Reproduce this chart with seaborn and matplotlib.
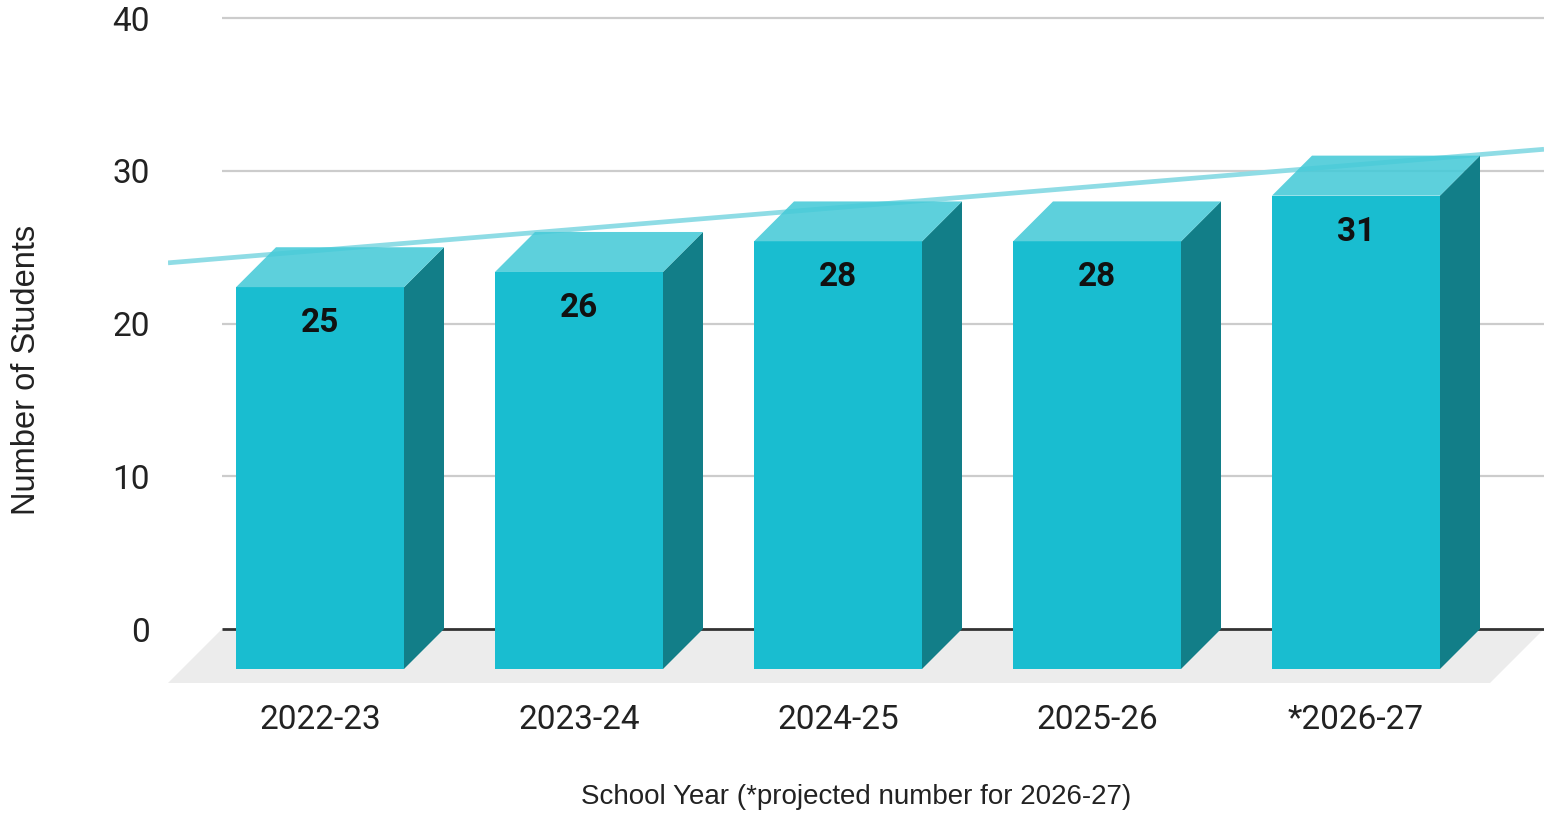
import numpy as np
import matplotlib
matplotlib.use("Agg")
import matplotlib.pyplot as plt
from matplotlib.patches import Polygon
import seaborn as sns

# ---- data ----
years = ["2022-23", "2023-24", "2024-25", "2025-26", "*2026-27"]
students = [25, 26, 28, 28, 31]
yticks = [0, 10, 20, 30, 40]
xlabel = "School Year (*projected number for 2026-27)"
ylabel = "Number of Students"

# ---- style ----
FRONT = "#19bdd0"
SIDE = "#127e88"
TOP = "#46cad8"
TREND = "#8fdce5"
FLOOR = "#ececec"

sns.set_theme(style="white")
plt.rcParams["font.family"] = ["Roboto", "DejaVu Sans"]
TITLE_FONT = ["Liberation Sans", "DejaVu Sans"]

W, H = 1544, 813
fig = plt.figure(figsize=(W / 100, H / 100), dpi=100)
ax = fig.add_axes([168 / W, (H - 683) / H, (W - 168) / W, 683 / H])

px_cat = 259.0          # pixels per category
px_val = 15.27          # pixels per unit
x0_px = 320.0           # pixel of category 0 center
zero_px = 629.0         # pixel row of value 0
bar_w = 168 / px_cat
ddx = 40 / px_cat       # depth offset in x (data)
ddy = 40 / px_val       # depth offset in y (data)

xlim = ((168 - x0_px) / px_cat, (W - x0_px) / px_cat)
ylim = ((zero_px - 683) / px_val, (zero_px - 0) / px_val)

# front faces via seaborn
sns.barplot(x=years, y=students, color=FRONT, width=bar_w, saturation=1,
            ax=ax, zorder=3, linewidth=0)
for p, v in zip(ax.patches, students):
    p.set_y(-ddy)
    p.set_height(v)
    p.set_zorder(3)
    x_l = p.get_x()
    x_r = x_l + p.get_width()
    top_f = v - ddy
    # side face
    ax.add_patch(Polygon([(x_r, -ddy), (x_r + ddx, 0), (x_r + ddx, v), (x_r, top_f)],
                         closed=True, facecolor=SIDE, edgecolor="none", zorder=3))
    # top face
    ax.add_patch(Polygon([(x_l, top_f), (x_l + ddx, v), (x_r + ddx, v), (x_r, top_f)],
                         closed=True, facecolor=TOP, edgecolor="none", alpha=0.88, zorder=3.5))
    ax.annotate(str(v), xy=(x_l + p.get_width() / 2, top_f), xytext=(0, -36),
                textcoords="offset pixels", ha="center", va="center",
                fontsize=24, fontweight="bold", color="#111111", zorder=5)

# floor
floor_depth_x = 54 / px_cat
floor_left_back = xlim[0] + floor_depth_x
floor_right_front = xlim[1] - floor_depth_x
ax.add_patch(Polygon([(xlim[0], ylim[0]), (floor_right_front, ylim[0]),
                      (xlim[1], 0), (floor_left_back, 0)],
                     closed=True, facecolor=FLOOR, edgecolor="none", zorder=0.5))

# gridlines
ax.hlines([t for t in yticks if t != 0], floor_left_back, xlim[1],
          color="#cccccc", lw=1.6, zorder=1)
ax.hlines(0, floor_left_back, xlim[1], color="#333333", lw=2, zorder=1.5)

# trend line
idx = np.arange(len(students))
slope, icpt = np.polyfit(idx, students, 1)
xs = np.array(xlim)
ax.plot(xs, icpt + slope * xs, color=TREND, lw=3.4, zorder=2, solid_capstyle="butt")

ax.set_xlim(*xlim)
ax.set_ylim(*ylim)
ax.set_yticks(yticks)
ax.set_yticklabels([str(t) for t in yticks])
ax.set_xticks(idx)
ax.set_xticklabels(years)
ax.tick_params(axis="y", length=0, pad=13, labelsize=24, labelcolor="#222222")
ax.tick_params(axis="x", length=0, pad=15, labelsize=24, labelcolor="#222222")
for s in ax.spines.values():
    s.set_visible(False)
ax.grid(False)

ax.set_xlabel(xlabel, fontsize=20, color="#222222", family=TITLE_FONT)
ax.xaxis.set_label_coords(0.5, (683 - 797) / 683)
ax.xaxis.label.set_va("center")
ax.set_ylabel(ylabel, fontsize=23.5, color="#222222", family=TITLE_FONT)
ax.yaxis.set_label_coords((27 - 168) / (W - 168), (683 - 370) / 683)
ax.yaxis.label.set_va("center")

fig.savefig("out.png", dpi=100)
